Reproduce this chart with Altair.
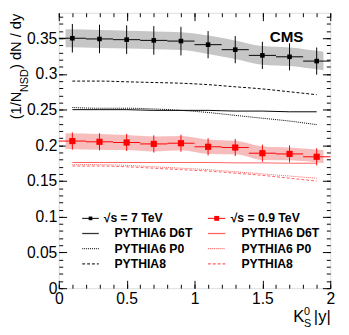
import altair as alt
import pandas as pd

# ---------------- data ----------------
x_centers = [0.1, 0.3, 0.5, 0.7, 0.9, 1.1, 1.3, 1.5, 1.7, 1.9]
bin_half = 0.1

k7 = [0.350, 0.349, 0.348, 0.347, 0.346, 0.341, 0.334, 0.326, 0.324, 0.318]
k7_err = [0.020, 0.020, 0.020, 0.020, 0.020, 0.019, 0.019, 0.019, 0.019, 0.019]
k7_sys = [0.0125, 0.0125, 0.0125, 0.0125, 0.0125, 0.013, 0.013, 0.013, 0.013, 0.013]

k09 = [0.206, 0.205, 0.204, 0.202, 0.203, 0.198, 0.197, 0.189, 0.188, 0.184]
k09_err = [0.012, 0.012, 0.012, 0.012, 0.012, 0.012, 0.012, 0.012, 0.012, 0.012]
k09_sys = [0.011, 0.011, 0.0105, 0.0105, 0.010, 0.010, 0.0095, 0.0095, 0.009, 0.009]

band_x = [0.05, 0.3, 0.5, 0.7, 0.9, 1.1, 1.3, 1.5, 1.7, 1.95]

mc7_d6t = [0.250, 0.250, 0.250, 0.249, 0.249, 0.249, 0.248, 0.248, 0.247, 0.247]
mc7_p0 = [0.253, 0.252, 0.252, 0.251, 0.249, 0.246, 0.242, 0.238, 0.234, 0.229]
mc7_py8 = [0.290, 0.290, 0.289, 0.288, 0.287, 0.285, 0.282, 0.279, 0.275, 0.271]

mc09_d6t = [0.176, 0.176, 0.176, 0.176, 0.176, 0.176, 0.1755, 0.1755, 0.175, 0.175]
mc09_p0 = [0.173, 0.173, 0.172, 0.170, 0.168, 0.166, 0.163, 0.160, 0.157, 0.154]
mc09_py8 = [0.171, 0.171, 0.170, 0.168, 0.166, 0.164, 0.161, 0.158, 0.154, 0.150]

x_major = [0, 0.5, 1, 1.5, 2]
x_minor = [i / 10 for i in range(21)]
y_major = [0, 0.05, 0.1, 0.15, 0.2, 0.25, 0.3, 0.35]
y_minor = [i / 100 for i in range(39)]

legend_black = ["\u221as = 7 TeV", "PYTHIA6 D6T", "PYTHIA6 P0", "PYTHIA8"]
legend_red = ["\u221as = 0.9 TeV", "PYTHIA6 D6T", "PYTHIA6 P0", "PYTHIA8"]

# ---------------- layout / style ----------------
W, H = 278, 282
X_DOM = [0, 2]
Y_DOM = [0, 0.3856]
OX, OY = 60, 9  # page position of plot origin (used for annotation placement)
FONT = "Liberation Sans"
RED = "#ff0000"
RED_MC = "#ff6060"
BLACK = "#000000"

XS = alt.Scale(domain=X_DOM, nice=False, zero=False)
YS = alt.Scale(domain=Y_DOM, nice=False, zero=False)


def X(field, axis=None):
    return alt.X(field, type="quantitative", scale=XS, axis=axis, title=None)


def Y(field, axis=None):
    return alt.Y(field, type="quantitative", scale=YS, axis=axis, title=None)


def data_frame(vals, err, sys):
    return pd.DataFrame({
        "x": x_centers,
        "lo": [x - bin_half for x in x_centers],
        "hi": [x + bin_half for x in x_centers],
        "y": vals,
        "ylo": [v - e for v, e in zip(vals, err)],
        "yhi": [v + e for v, e in zip(vals, err)],
        "bx": band_x,
        "blo": [v - s for v, s in zip(vals, sys)],
        "bhi": [v + s for v, s in zip(vals, sys)],
    })


d7 = data_frame(k7, k7_err, k7_sys)
d09 = data_frame(k09, k09_err, k09_sys)


def band(df, color):
    return alt.Chart(df).mark_area(color=color, interpolate="monotone").encode(
        x=X("bx"), y=Y("blo"), y2="bhi")


def points(df, color, size):
    hbar = alt.Chart(df).mark_rule(color=color, strokeWidth=1).encode(
        x=X("lo"), x2="hi", y=Y("y"))
    vbar = alt.Chart(df).mark_rule(color=color, strokeWidth=1).encode(
        x=X("x"), y=Y("ylo"), y2="yhi")
    mk = alt.Chart(df).mark_point(shape="square", filled=True, color=color,
                                  size=size, opacity=1, strokeWidth=0).encode(
        x=X("x"), y=Y("y"))
    return [hbar, vbar, mk]


def mc_line(vals, color, dash):
    df = pd.DataFrame({"x": x_centers, "y": vals})
    kw = dict(color=color, strokeWidth=1, interpolate="monotone")
    if dash:
        kw["strokeDash"] = dash
    return alt.Chart(df).mark_line(**kw).encode(x=X("x"), y=Y("y"))


DOT = [1, 1]
DASH = [3, 2]

layers = []
layers.append(band(d7, "#c6c6c6"))
layers.append(band(d09, "#f7bcbc"))
layers += [
    mc_line(mc7_d6t, BLACK, None),
    mc_line(mc7_p0, BLACK, DOT),
    mc_line(mc7_py8, BLACK, DASH),
    mc_line(mc09_d6t, RED_MC, None),
    mc_line(mc09_p0, RED_MC, DOT),
    mc_line(mc09_py8, RED_MC, DASH),
]
layers += points(d7, BLACK, 22)
layers += points(d09, RED, 40)

# ---------------- axes (ROOT style: ticks inside, on all four sides) ----------------
axis_src = pd.DataFrame({"x": [1.0], "y": [0.1]})
common = dict(domain=False, grid=False, tickColor="black", tickWidth=1,
              labelColor="black", labelFont=FONT, labelFontSize=16, title=None)


def axis_layer(xaxis, yaxis):
    return alt.Chart(axis_src).mark_point(opacity=0).encode(
        x=X("x", xaxis), y=Y("y", yaxis))


layers.append(axis_layer(
    alt.Axis(orient="bottom", values=x_major, format="~g", tickSize=8, offset=-8,
             labelPadding=3, labelFlush=False, labelOverlap=False, **common),
    alt.Axis(orient="left", values=y_major, format="~g", tickSize=8, offset=-8,
             labelPadding=2, labelOverlap=False, **common)))
layers.append(axis_layer(
    alt.Axis(orient="bottom", values=x_minor, tickSize=4, offset=-4, labels=False, **common),
    alt.Axis(orient="left", values=y_minor, tickSize=4, offset=-4, labels=False, **common)))
layers.append(axis_layer(
    alt.Axis(orient="top", values=x_major, tickSize=8, offset=-8, labels=False, **common),
    alt.Axis(orient="right", values=y_major, tickSize=8, offset=-8, labels=False, **common)))
layers.append(axis_layer(
    alt.Axis(orient="top", values=x_minor, tickSize=4, offset=-4, labels=False, **common),
    alt.Axis(orient="right", values=y_minor, tickSize=4, offset=-4, labels=False, **common)))


# ---------------- text annotations ----------------
def text(s, px, py, size, angle=0, align="left", baseline="alphabetic",
         bold=False, color="black"):
    kw = dict(font=FONT, fontSize=size, align=align, baseline=baseline, color=color)
    if angle:
        kw["angle"] = angle
    if bold:
        kw["fontWeight"] = "bold"
    return alt.Chart().mark_text(**kw).encode(
        x=alt.value(px - OX), y=alt.value(py - OY), text=alt.value(s))


# y title: (1/N_NSD) dN / dy, rotated
layers.append(text("(1/N", 21, 118, 15, angle=270))
layers.append(text("NSD", 28.5, 90, 11, angle=270))
layers.append(text(") dN / dy", 21, 66.5, 15, angle=270))
# x title: K^0_S |y|
layers.append(text("K", 300, 325.7, 17))
layers.append(text("0", 311, 318, 11))
layers.append(text("S", 311, 330.5, 11))
layers.append(text("|y|", 338.5, 325.7, 17, align="right"))
# CMS
layers.append(text("CMS", 276, 39.3, 15.5, bold=True))

# ---------------- legend ----------------
row_y = [219.5, 235, 250.5, 266]
styles = [None, None, DOT, DASH]


def rule(x1, x2, py, color, width, dash):
    kw = dict(color=color, strokeWidth=width)
    if dash:
        kw["strokeDash"] = dash
    return alt.Chart().mark_rule(**kw).encode(
        x=alt.value(x1 - OX), x2=alt.value(x2 - OX), y=alt.value(py - OY))


def marker(px, py, color, size, shape):
    return alt.Chart().mark_point(shape=shape, filled=True, color=color, size=size,
                                  opacity=1, strokeWidth=0).encode(
        x=alt.value(px - OX), y=alt.value(py - OY))


for i, (lb, lr) in enumerate(zip(legend_black, legend_red)):
    py = row_y[i]
    layers.append(rule(84, 101, py, "#333333" if i else BLACK, 1.3 if i else 1, styles[i]))
    layers.append(rule(212.7, 230.5, py, RED_MC if i else RED, 1.3 if i else 1, styles[i]))
    layers.append(text(lb, 106 if i == 0 else 117, py, 12.5, baseline="middle", bold=True))
    layers.append(text(lr, 236 if i == 0 else 247, py, 12.5, baseline="middle", bold=True))
layers.append(marker(92.5, row_y[0], BLACK, 14, "square"))
layers.append(marker(221.7, row_y[0], RED, 25, "square"))

chart = alt.layer(*layers).resolve_axis(
    x="independent", y="independent"
).properties(
    width=W, height=H,
    autosize=alt.AutoSizeParams(type="none"),
    padding={"left": 52, "top": 1, "right": 11, "bottom": 44},
).configure_view(stroke="black", strokeWidth=1).configure(background="white")

chart.save("out.html", embed_options={"renderer": "svg", "actions": False})
